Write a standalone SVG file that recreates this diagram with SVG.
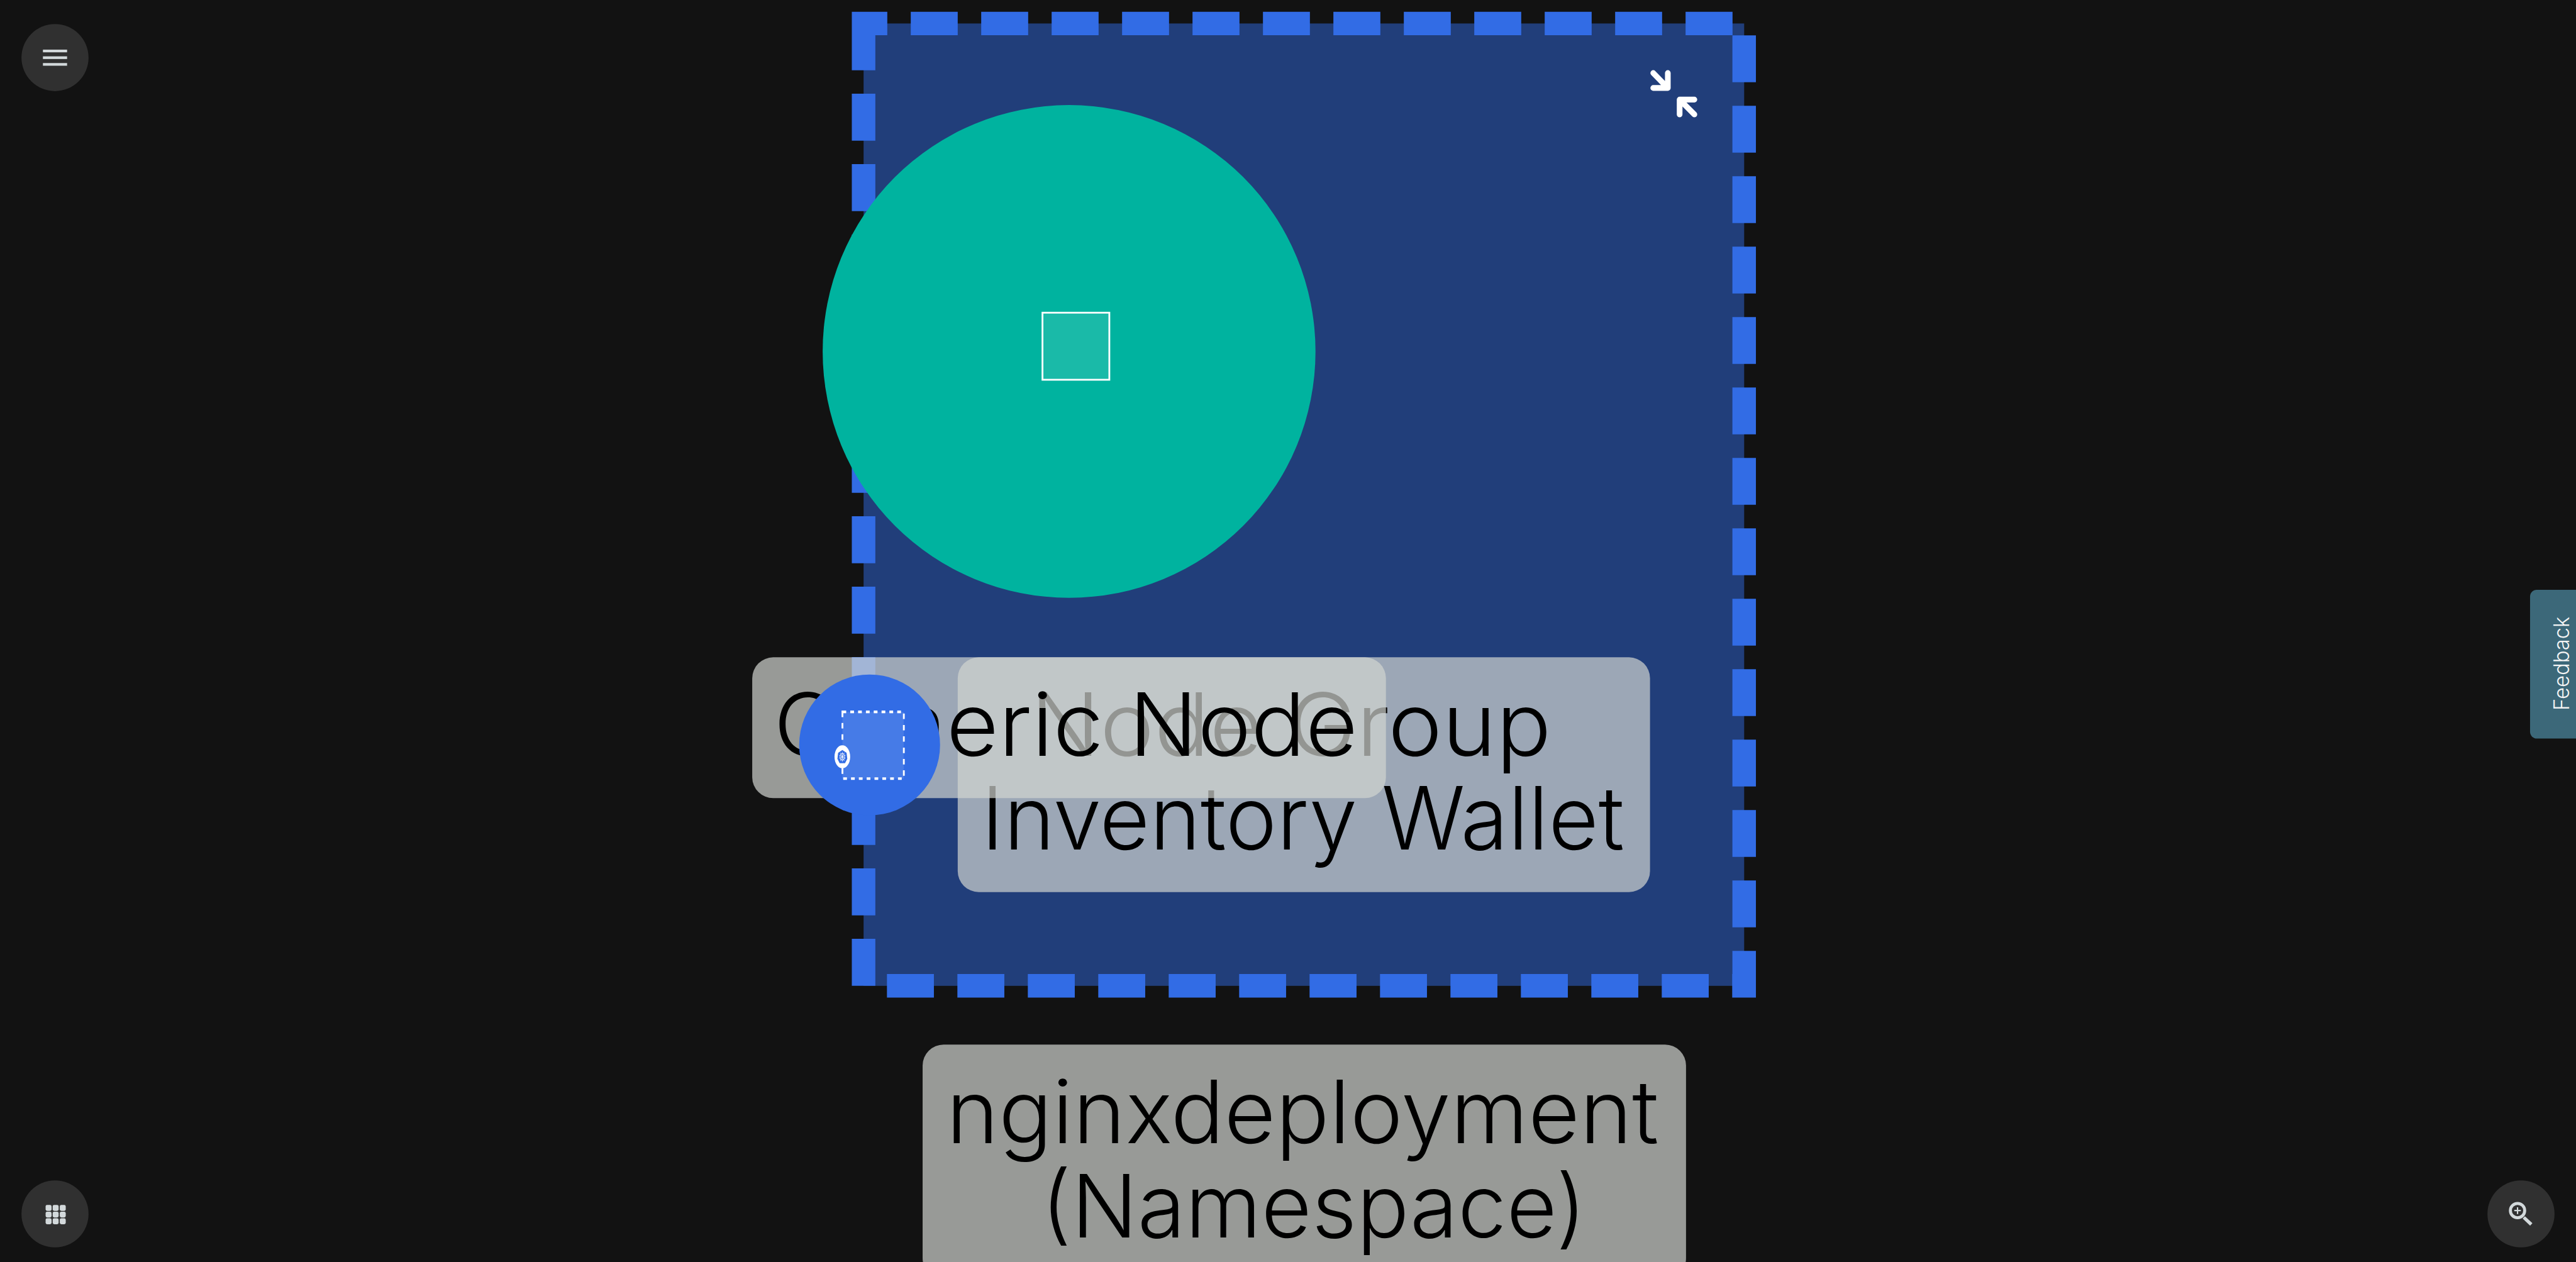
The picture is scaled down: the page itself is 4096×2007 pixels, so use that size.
<svg xmlns="http://www.w3.org/2000/svg" width="4096" height="2007" viewBox="0 0 4096 2007">
<style>
.lbl{fill:rgb(209,212,208);fill-opacity:.7}
.t{font-family:"Inter","Liberation Sans",sans-serif;font-weight:300;font-size:195px;fill:#000}
.btn{fill:#303030}
.ic{fill:#d3d9db}
.icl{stroke:#d3d9db;fill:none}
.arrow{fill:none;stroke:#fff;stroke-width:12.7;stroke-linecap:round;stroke-linejoin:round}
</style>
<rect width="4096" height="2007" fill="#121212"/>
<g transform="scale(0.71111)">
<g id="connectors"></g>
<g id="namespace-box">
<rect x="1931" y="52.5" width="1969" height="2152.25" fill="#213e7a" stroke="#326ce5" stroke-width="52.6" stroke-dasharray="105 52.5" stroke-dashoffset="52"/>
<path class="arrow" d="M3729.3 163.3V196.7H3696.7M3696.7 163.3L3729.3 196.7"/>
<path class="arrow" d="M3755.7 256V222.7H3788.7M3755.7 222.7L3788.7 256"/>
</g>
<g id="teal-node">
<circle cx="2390.5" cy="786" r="551" fill="#00b39f"/>
<rect x="2331" y="699.3" width="149.5" height="150" fill="#fff" fill-opacity=".1" stroke="#fff" stroke-width="4"/>
</g>
<g id="node-inventory-wallet">
<rect class="lbl" x="2141.5" y="1470" width="1548" height="525" rx="47"/>
<text class="t" x="2304" y="1690" textLength="1165" lengthAdjust="spacingAndGlyphs">Node Group</text>
<text class="t" x="2194" y="1900" textLength="1438" lengthAdjust="spacingAndGlyphs">Inventory Wallet</text>
</g>
<g id="node-generic">
<rect class="lbl" x="1682" y="1470" width="1417" height="315" rx="47"/>
<text class="t" x="1730" y="1690" textLength="1306" lengthAdjust="spacingAndGlyphs">Generic Node</text>
</g>
<g id="k8s-node">
<circle cx="1944.5" cy="1666" r="157.5" fill="#326ce5"/>
<g transform="translate(1883.7,1592) scale(1,1.45)">
<rect width="137.3" height="103" fill="#fff" fill-opacity=".1" stroke="#fff" stroke-width="4" stroke-dasharray="8.4 9.1"/>
</g>
<g transform="translate(1883.5,1692.5) scale(1,1.45)">
<ellipse rx="17.5" ry="17.8" fill="#fff"/>
<polygon points="0,-10.5 9.5,-6 11,3 6,10 -6,10 -11,3 -9.5,-6" fill="#326ce5"/>
<circle r="5.2" fill="none" stroke="#fff" stroke-width="1"/>
<circle r="1.2" fill="#fff"/>
<path d="M0 -7.6V7.6M-7.2 -2.4L7.2 2.4M-7.2 2.4L7.2 -2.4M-4.4 -6.2L4.4 6.2M4.4 -6.2L-4.4 6.2" stroke="#fff" stroke-width=".8" fill="none"/>
</g>
</g>
<g id="namespace-label">
<rect class="lbl" x="2063" y="2336" width="1707" height="525" rx="47"/>
<text class="t" x="2116" y="2557" textLength="1593" lengthAdjust="spacingAndGlyphs">nginxdeployment</text>
<text class="t" x="2328" y="2767" textLength="1219" lengthAdjust="spacingAndGlyphs">(Namespace)</text>
</g>
<g id="menu-button">
<circle class="btn" cx="123" cy="128.8" r="75"/>
<rect class="ic" x="96" y="111" width="54" height="6"/>
<rect class="ic" x="96" y="126" width="54" height="6"/>
<rect class="ic" x="96" y="141" width="54" height="6"/>
</g>
<g id="apps-button">
<circle class="btn" cx="123" cy="2714.8" r="75"/>
<g class="ic">
<rect x="102" y="2694.7" width="13.3" height="13.3" rx="3.5"/><rect x="117.8" y="2694.7" width="13.3" height="13.3" rx="3.5"/><rect x="133.7" y="2694.7" width="13.3" height="13.3" rx="3.5"/>
<rect x="102" y="2709.7" width="13.3" height="13.3" rx="3.5"/><rect x="117.8" y="2709.7" width="13.3" height="13.3" rx="3.5"/><rect x="133.7" y="2709.7" width="13.3" height="13.3" rx="3.5"/>
<rect x="102" y="2724.7" width="13.3" height="13.3" rx="3.5"/><rect x="117.8" y="2724.7" width="13.3" height="13.3" rx="3.5"/><rect x="133.7" y="2724.7" width="13.3" height="13.3" rx="3.5"/>
</g>
</g>
<g id="zoom-button">
<circle class="btn" cx="5637" cy="2714.8" r="75"/>
<circle class="icl" cx="5629.3" cy="2707.3" r="16" stroke-width="6.7"/>
<path class="icl" d="M5643.3 2722.7L5660 2738.3" stroke-width="7.5"/>
<path class="icl" d="M5622 2707.3H5636.7M5629.3 2700V2715" stroke-width="3"/>
</g>
<g id="feedback-tab">
<rect x="5657.3" y="1319" width="140" height="332.7" rx="15" fill="#3c6879"/>
<text transform="translate(5744,1589) rotate(-90)" font-family="Inter, 'Liberation Sans', sans-serif" font-weight="300" font-size="47" fill="#f5f5f5" textLength="210" lengthAdjust="spacingAndGlyphs">Feedback</text>
</g>
</g>
</svg>
